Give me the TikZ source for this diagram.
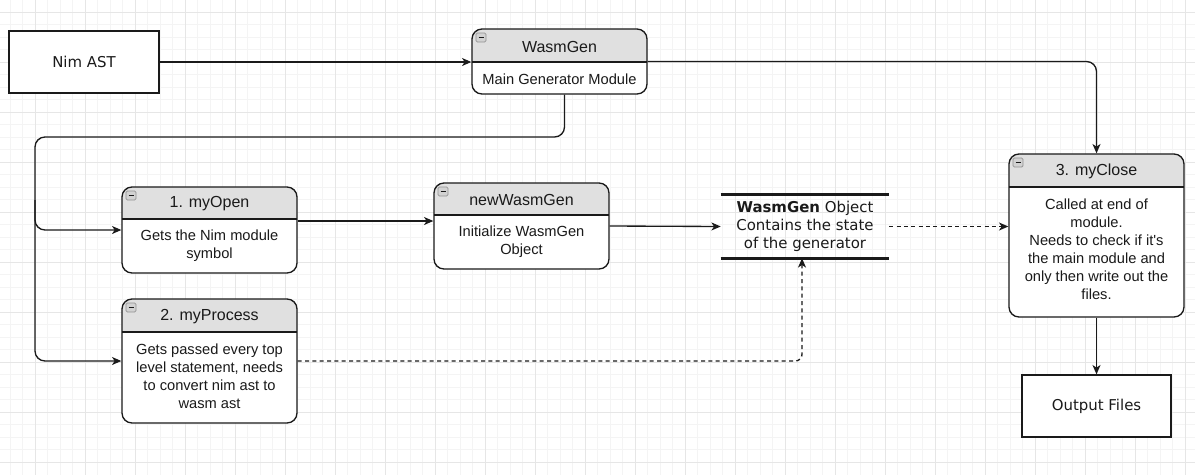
\documentclass[tikz,border=0pt]{standalone}
\usepackage{fontspec}
\setmainfont{Liberation Sans}[Ligatures=TeXOff]
\newfontfamily\verd{DejaVu Sans}
\usetikzlibrary{arrows.meta,fit}
\definecolor{hdr}{HTML}{E0E0E0}
\definecolor{gridmin}{HTML}{F4F4F4}
\definecolor{gridmaj}{HTML}{E6E6E6}
\definecolor{ink}{HTML}{1A1A1A}
\tikzset{
  box/.style={draw=ink, line width=1pt, inner sep=0pt, fill=none},
  lanetitle/.style={font=\fontsize{12}{14}\selectfont, text=ink, inner sep=0pt},
  lanebody/.style={font=\fontsize{11}{13.5}\selectfont, text=ink, align=center, inner sep=0pt},
  vtext/.style={font=\verd\fontsize{11.2}{13.5}\selectfont, text=ink, align=center, inner sep=0pt},
  arr/.style={draw=ink, line width=1pt, -{Stealth[length=7pt,width=6pt,inset=2pt]}},
  dsh/.style={arr, dash pattern=on 3pt off 2.5pt},
}
\newcommand\swimlane[7]{%
  \begin{scope}
    \clip[rounded corners=7.5pt] (#2,#3) rectangle (#4,#5);
    \fill[hdr] (#2,#3) rectangle (#4,#6);
  \end{scope}
  \node[box, rounded corners=7.5pt, fit={(#2,#3) (#4,#5)}] (#1) {};
  \draw[ink, line width=1pt] (#2,#6) -- (#4,#6);
  \node[lanetitle] (#1-title) at ({(#2+#4)/2},{(#3+#6)/2+1}) {#7};
  \draw[draw=gray!85, fill=gray!35, rounded corners=1pt, line width=0.6pt] ({#2+4},{#3+4}) rectangle +(10,9);
  \draw[gray!20!black, line width=1pt] ({#2+6.5},{#3+8.5}) -- +(5,0);
}
\begin{document}
\begin{tikzpicture}[x=0.75pt,y=-0.75pt]
\useasboundingbox[fill=white] (0,0) rectangle (1195,475);
% grid
\foreach \i in {0,...,97}{
  \draw[gridmin, line width=0.6pt] ({-15+12.5*\i},0) -- ({-15+12.5*\i},475);
}
\foreach \i in {0,...,40}{
  \draw[gridmin, line width=0.6pt] (0,{-38+12.5*\i}) -- (1195,{-38+12.5*\i});
}
\foreach \i in {0,...,24}{
  \draw[gridmaj, line width=0.6pt] ({-15+50*\i},0) -- ({-15+50*\i},475);
}
\foreach \i in {0,...,10}{
  \draw[gridmaj, line width=0.6pt] (0,{-38+50*\i}) -- (1195,{-38+50*\i});
}

% plain boxes
\node[box, fill=white, fit={(9,31) (159,93)}] (nim) {};
\node[vtext] at (nim.center) {Nim AST};
\node[box, fill=white, fit={(1022,375) (1171,437)}] (out) {};
\node[vtext] at (out.center) {Output Files};

% white backgrounds for lanes
\fill[white, rounded corners=7.5pt] (472,29) rectangle (647,94);
\fill[white, rounded corners=7.5pt] (122,187) rectangle (297,273);
\fill[white, rounded corners=7.5pt] (434,183) rectangle (609,269);
\fill[white, rounded corners=7.5pt] (122,299) rectangle (297,423);
\fill[white, rounded corners=7.5pt] (1009,154) rectangle (1184,317);

% swimlanes
\swimlane{wasm}{472}{29}{647}{94}{62}{WasmGen}
\node[lanebody] at (559.5,79) {Main Generator Module};

\swimlane{open}{122}{187}{297}{273}{219}{1. myOpen}
\node[lanebody] at (209.5,246) {Gets the Nim module\\symbol};

\swimlane{newwasm}{434}{183}{609}{269}{215}{newWasmGen}
\node[lanebody] at (521.5,242) {Initialize WasmGen\\Object};

\swimlane{proc}{122}{299}{297}{423}{332}{2. myProcess}
\node[lanebody] at (209.5,376) {Gets passed every top\\level statement, needs\\to convert nim ast to\\wasm ast};

\swimlane{close}{1009}{154}{1184}{317}{187}{3. myClose}
\node[lanebody] at (1096.5,249) {Called at end of\\module.\\Needs to check if it's\\the main module and\\only then write out the\\files.};

% object
\node[inner sep=0pt, fit={(721,195) (889,258)}] (obj) {};
\draw[ink, line width=2pt] (obj.north west) -- (obj.north east);
\draw[ink, line width=2pt] (obj.south west) -- (obj.south east);
\node[vtext] at (obj.center) {\textbf{WasmGen} Object\\Contains the state\\of the generator};

% connectors
\coordinate (trunk) at (35,137);
\coordinate (ylink) at (0,221);
\coordinate (ymid) at (0,200);
\coordinate (wdown) at ([xshift=3.75pt]wasm.south);
\coordinate (oin) at ([xshift=-2.25pt]obj.south);
\draw[arr] (nim.east) -- (nim.east -| wasm.west);
\draw[arr, rounded corners=7.5pt] (wasm.east) -| (close.north);
\draw[arr, rounded corners=7.5pt] (wdown) |- (trunk) |- (open.west);
\draw[arr, rounded corners=7.5pt] (trunk |- ymid) |- (proc.west);
\draw[arr] (open.east |- ylink) -- (newwasm.west |- ylink);
\draw[arr] (newwasm.east) -- (obj.west);
\draw[dsh] (obj.east) -- (obj.east -| close.west);
\draw[dsh, rounded corners=5pt] (proc.east) -| (oin);
\draw[arr] (close.south) -- (out.north);
\end{tikzpicture}
\end{document}
